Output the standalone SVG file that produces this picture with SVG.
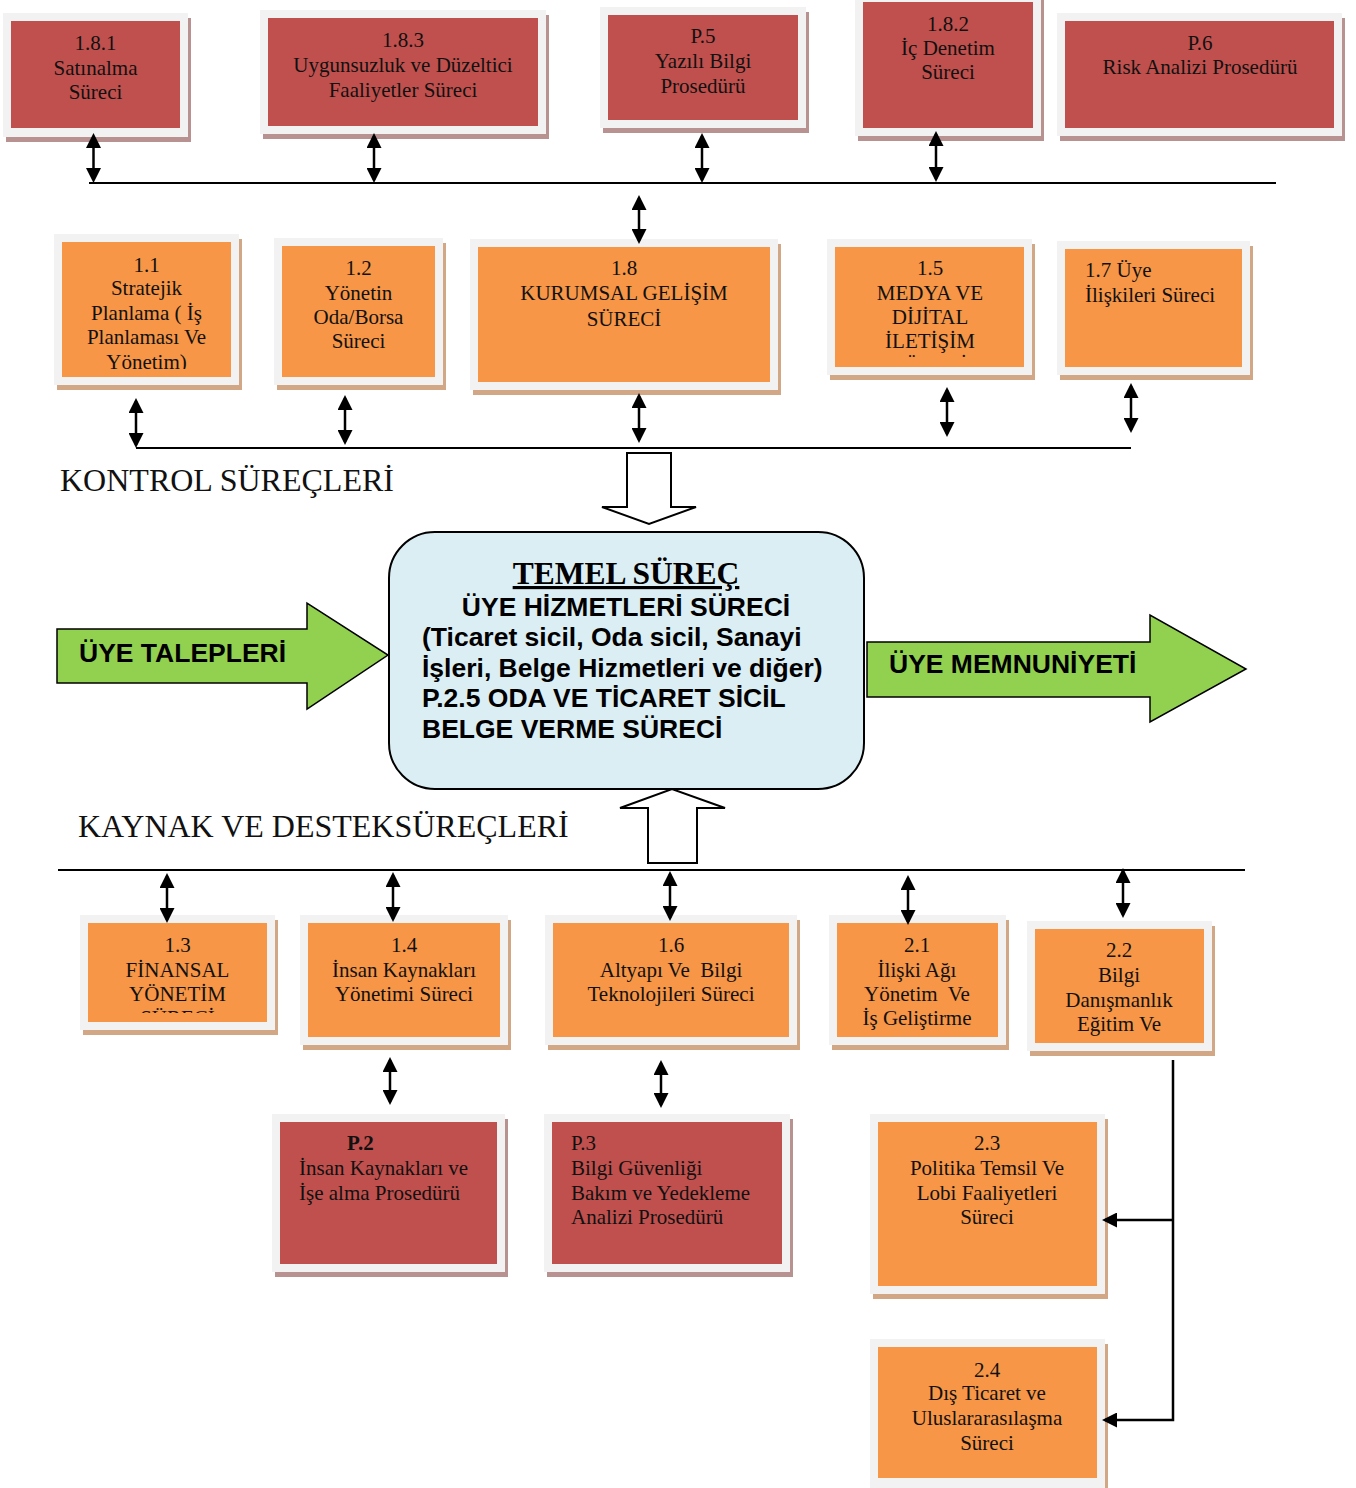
<svg xmlns="http://www.w3.org/2000/svg" width="1356" height="1488" viewBox="0 0 1356 1488">
<style>
.frame{fill:#f2f2f2}
.red{fill:#c0504d}
.org{fill:#f79646}
.shr{fill:#b89191}
.sho{fill:#d2a786}
.t{font-family:"Liberation Serif","Times New Roman",serif;font-size:21px;fill:#111;text-anchor:middle;white-space:pre}
.tl{text-anchor:start}
.lbl{font-family:"Liberation Serif","Times New Roman",serif;font-size:32px;fill:#111}
.sb{font-family:"Liberation Sans",Arial,sans-serif;font-weight:bold;font-size:26.5px;fill:#000}
.arr{stroke:#000;stroke-width:2.5;fill:none}
.bus{stroke:#000;stroke-width:2;fill:none}
.hollow{fill:#fff;stroke:#000;stroke-width:2}
.green{fill:#92d050;stroke:#000;stroke-width:1.5}
</style>
<defs>
<marker id="ah" viewBox="0 0 15 15" refX="12" refY="7.5" markerWidth="15" markerHeight="15" markerUnits="userSpaceOnUse" orient="auto-start-reverse"><path d="M0,0 L15,7.5 L0,15 z" fill="#000"/></marker>
<clipPath id="c11"><rect x="62" y="242" width="169" height="127"/></clipPath>
<clipPath id="c15"><rect x="835" y="247" width="189" height="110"/></clipPath>
<clipPath id="c13"><rect x="88" y="923" width="179" height="90"/></clipPath>
</defs>
<rect width="1356" height="1488" fill="#fff"/>

<g id="n181">
<rect class="shr" x="6" y="18" width="185" height="124"/>
<rect class="frame" x="3" y="13" width="185" height="124"/>
<rect class="red" x="11" y="21" width="169" height="107"/>
<text class="t"><tspan x="95.5" y="50">1.8.1</tspan><tspan x="95.5" y="75">Satınalma</tspan><tspan x="95.5" y="99">Süreci</tspan></text>
</g>
<g id="n183">
<rect class="shr" x="263" y="15" width="286" height="124"/>
<rect class="frame" x="260" y="10" width="286" height="124"/>
<rect class="red" x="268" y="18" width="270" height="108"/>
<text class="t"><tspan x="403" y="47">1.8.3</tspan><tspan x="403" y="72">Uygunsuzluk ve Düzeltici</tspan><tspan x="403" y="97">Faaliyetler Süreci</tspan></text>
</g>
<g id="np5">
<rect class="shr" x="603" y="12" width="206" height="121"/>
<rect class="frame" x="600" y="7" width="206" height="121"/>
<rect class="red" x="608" y="15" width="190" height="105"/>
<text class="t"><tspan x="703" y="43">P.5</tspan><tspan x="703" y="68">Yazılı Bilgi</tspan><tspan x="703" y="93">Prosedürü</tspan></text>
</g>
<g id="n182">
<rect class="shr" x="858" y="0" width="186" height="141"/>
<rect class="frame" x="855" y="-6" width="186" height="142"/>
<rect class="red" x="863" y="2" width="170" height="126"/>
<text class="t"><tspan x="948" y="31">1.8.2</tspan><tspan x="948" y="55">İç Denetim</tspan><tspan x="948" y="79">Süreci</tspan></text>
</g>
<g id="np6">
<rect class="shr" x="1060" y="18" width="285" height="123"/>
<rect class="frame" x="1057" y="13" width="285" height="123"/>
<rect class="red" x="1065" y="21" width="269" height="107"/>
<text class="t"><tspan x="1200" y="50">P.6</tspan><tspan x="1200" y="74">Risk Analizi Prosedürü</tspan></text>
</g>

<g id="n11">
<rect class="sho" x="57" y="239" width="185" height="151"/>
<rect class="frame" x="54" y="234" width="185" height="151"/>
<rect class="org" x="62" y="242" width="169" height="135"/>
<text class="t" clip-path="url(#c11)"><tspan x="146.5" y="272">1.1</tspan><tspan x="146.5" y="295">Stratejik</tspan><tspan x="146.5" y="320">Planlama ( İş</tspan><tspan x="146.5" y="344">Planlaması Ve</tspan><tspan x="146.5" y="369">Yönetim)</tspan></text>
</g>
<g id="n12">
<rect class="sho" x="277" y="243" width="169" height="147"/>
<rect class="frame" x="274" y="238" width="169" height="147"/>
<rect class="org" x="282" y="246" width="153" height="131"/>
<text class="t"><tspan x="358.5" y="275">1.2</tspan><tspan x="358.5" y="300">Yönetin</tspan><tspan x="358.5" y="324">Oda/Borsa</tspan><tspan x="358.5" y="348">Süreci</tspan></text>
</g>
<g id="n18">
<rect class="sho" x="473" y="244" width="308" height="151"/>
<rect class="frame" x="470" y="239" width="308" height="151"/>
<rect class="org" x="478" y="247" width="292" height="135"/>
<text class="t"><tspan x="624" y="275">1.8</tspan><tspan x="624" y="300">KURUMSAL GELİŞİM</tspan><tspan x="624" y="326">SÜRECİ</tspan></text>
</g>
<g id="n15">
<rect class="sho" x="830" y="244" width="205" height="136"/>
<rect class="frame" x="827" y="239" width="205" height="136"/>
<rect class="org" x="835" y="247" width="189" height="120"/>
<text class="t" clip-path="url(#c15)"><tspan x="930" y="275">1.5</tspan><tspan x="930" y="300">MEDYA VE</tspan><tspan x="930" y="324">DİJİTAL</tspan><tspan x="930" y="348">İLETİŞİM</tspan><tspan x="930" y="372">SÜRECİ</tspan></text>
</g>
<g id="n17">
<rect class="sho" x="1060" y="246" width="193" height="134"/>
<rect class="frame" x="1057" y="241" width="193" height="134"/>
<rect class="org" x="1065" y="249" width="177" height="118"/>
<text class="t tl"><tspan x="1085" y="277">1.7 Üye</tspan><tspan x="1085" y="302">İlişkileri Süreci</tspan></text>
</g>

<g id="temel">
<rect x="389" y="532" width="475" height="257" rx="46" ry="46" fill="#dbeef4" stroke="#000" stroke-width="2"/>
<text x="626" y="584" text-anchor="middle" text-decoration="underline" style="font-family:'Liberation Serif','Times New Roman',serif;font-weight:bold;font-size:31.5px;fill:#000">TEMEL SÜREÇ</text>
<text class="sb" x="626" y="616" text-anchor="middle">ÜYE HİZMETLERİ SÜRECİ</text>
<text class="sb"><tspan x="422" y="646">(Ticaret sicil, Oda sicil, Sanayi</tspan><tspan x="422" y="677">İşleri, Belge Hizmetleri ve diğer)</tspan><tspan x="422" y="707">P.2.5 ODA VE TİCARET SİCİL</tspan><tspan x="422" y="738">BELGE VERME SÜRECİ</tspan></text>
</g>

<g id="talepler">
<polygon class="green" points="57,629 307,629 307,603 388,655 307,709 307,683 57,683"/>
<text class="sb" x="79" y="662">ÜYE TALEPLERİ</text>
</g>
<g id="memnuniyet">
<polygon class="green" points="867,642 1150,642 1150,615 1246,669 1150,722 1150,697 867,697"/>
<text class="sb" x="889" y="673">ÜYE MEMNUNİYETİ</text>
</g>

<text class="lbl" x="60" y="491">KONTROL SÜREÇLERİ</text>
<text class="lbl" x="78" y="837">KAYNAK VE DESTEKSÜREÇLERİ</text>

<g id="n13">
<rect class="sho" x="83" y="920" width="195" height="115"/>
<rect class="frame" x="80" y="915" width="195" height="115"/>
<rect class="org" x="88" y="923" width="179" height="99"/>
<text class="t" clip-path="url(#c13)"><tspan x="177.5" y="952">1.3</tspan><tspan x="177.5" y="977">FİNANSAL</tspan><tspan x="177.5" y="1001">YÖNETİM</tspan><tspan x="177.5" y="1025">SÜRECİ</tspan></text>
</g>
<g id="n14">
<rect class="sho" x="303" y="920" width="208" height="130"/>
<rect class="frame" x="300" y="915" width="208" height="130"/>
<rect class="org" x="308" y="923" width="192" height="114"/>
<text class="t"><tspan x="404" y="952">1.4</tspan><tspan x="404" y="977">İnsan Kaynakları</tspan><tspan x="404" y="1001">Yönetimi Süreci</tspan></text>
</g>
<g id="n16">
<rect class="sho" x="548" y="920" width="252" height="130"/>
<rect class="frame" x="545" y="915" width="252" height="130"/>
<rect class="org" x="553" y="923" width="236" height="114"/>
<text class="t" xml:space="preserve"><tspan x="671" y="952">1.6</tspan><tspan x="671" y="977">Altyapı Ve  Bilgi</tspan><tspan x="671" y="1001">Teknolojileri Süreci</tspan></text>
</g>
<g id="n21">
<rect class="sho" x="832" y="920" width="177" height="130"/>
<rect class="frame" x="829" y="915" width="177" height="130"/>
<rect class="org" x="837" y="923" width="161" height="114"/>
<text class="t" xml:space="preserve"><tspan x="917" y="952">2.1</tspan><tspan x="917" y="977">İlişki Ağı</tspan><tspan x="917" y="1001">Yönetim  Ve</tspan><tspan x="917" y="1025">İş Geliştirme</tspan></text>
</g>
<g id="n22">
<rect class="sho" x="1030" y="926" width="185" height="130"/>
<rect class="frame" x="1027" y="921" width="185" height="130"/>
<rect class="org" x="1035" y="929" width="169" height="114"/>
<text class="t"><tspan x="1119" y="957">2.2</tspan><tspan x="1119" y="982">Bilgi</tspan><tspan x="1119" y="1007">Danışmanlık</tspan><tspan x="1119" y="1031">Eğitim Ve</tspan></text>
</g>

<g id="np2">
<rect class="shr" x="275" y="1119" width="233" height="158"/>
<rect class="frame" x="272" y="1114" width="233" height="158"/>
<rect class="red" x="280" y="1122" width="217" height="142"/>
<text class="t tl"><tspan x="347" y="1150" font-weight="bold">P.2</tspan><tspan x="299" y="1175">İnsan Kaynakları ve</tspan><tspan x="299" y="1200">İşe alma Prosedürü</tspan></text>
</g>
<g id="np3">
<rect class="shr" x="547" y="1119" width="246" height="158"/>
<rect class="frame" x="544" y="1114" width="246" height="158"/>
<rect class="red" x="552" y="1122" width="230" height="142"/>
<text class="t tl"><tspan x="571" y="1150">P.3</tspan><tspan x="571" y="1175">Bilgi Güvenliği</tspan><tspan x="571" y="1200">Bakım ve Yedekleme</tspan><tspan x="571" y="1224">Analizi Prosedürü</tspan></text>
</g>
<g id="n23">
<rect class="sho" x="873" y="1119" width="235" height="180"/>
<rect class="frame" x="870" y="1114" width="235" height="180"/>
<rect class="org" x="878" y="1122" width="219" height="164"/>
<text class="t"><tspan x="987" y="1150">2.3</tspan><tspan x="987" y="1175">Politika Temsil Ve</tspan><tspan x="987" y="1200">Lobi Faaliyetleri</tspan><tspan x="987" y="1224">Süreci</tspan></text>
</g>
<g id="n24">
<rect class="sho" x="873" y="1344" width="235" height="150"/>
<rect class="frame" x="870" y="1339" width="235" height="150"/>
<rect class="org" x="878" y="1347" width="219" height="131"/>
<text class="t"><tspan x="987" y="1377">2.4</tspan><tspan x="987" y="1400">Dış Ticaret ve</tspan><tspan x="987" y="1425">Uluslararasılaşma</tspan><tspan x="987" y="1450">Süreci</tspan></text>
</g>

<g id="connectors">
<line class="bus" x1="89" y1="183" x2="1276" y2="183"/>
<line class="bus" x1="136" y1="448" x2="1131" y2="448"/>
<line class="bus" x1="58" y1="870" x2="1245" y2="870"/>

<polygon class="hollow" points="627,453 671,453 671,507 696,507 649,524 602,507 627,507"/>
<polygon class="hollow" points="648,863 697,863 697,808 725,808 672,789 620,808 648,808"/>

<g class="arr" marker-start="url(#ah)" marker-end="url(#ah)">
<line x1="93.5" y1="136" x2="93.5" y2="180"/>
<line x1="374" y1="136" x2="374" y2="180"/>
<line x1="702" y1="136" x2="702" y2="180"/>
<line x1="936" y1="134" x2="936" y2="179"/>
<line x1="639" y1="198" x2="639" y2="241"/>
<line x1="136" y1="401" x2="136" y2="445"/>
<line x1="345" y1="398" x2="345" y2="442"/>
<line x1="639" y1="396" x2="639" y2="440"/>
<line x1="947" y1="390" x2="947" y2="434"/>
<line x1="1131" y1="386" x2="1131" y2="430"/>
<line x1="167" y1="876" x2="167" y2="920"/>
<line x1="393" y1="875" x2="393" y2="919"/>
<line x1="670" y1="874" x2="670" y2="918"/>
<line x1="908" y1="878" x2="908" y2="922"/>
<line x1="1123" y1="871" x2="1123" y2="915"/>
<line x1="390" y1="1060" x2="390" y2="1102"/>
<line x1="661" y1="1063" x2="661" y2="1105"/>
</g>
<polyline class="arr" points="1173,1060 1173,1420 1105,1420" marker-end="url(#ah)"/>
<line class="arr" x1="1173" y1="1220" x2="1105" y2="1220" marker-end="url(#ah)"/>
</g>
</svg>
